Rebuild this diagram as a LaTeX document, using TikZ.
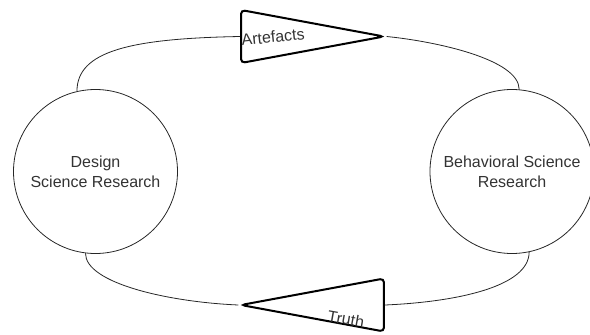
\documentclass[tikz,border=0pt]{standalone}
\usepackage{fontspec}
\setmainfont{Liberation Sans}
\usetikzlibrary{shapes.geometric}
\tikzstyle{research} = [
circle,
draw=black!85,
line width=0.8pt,
minimum size=164pt,
text=black!80,
align=center,
font=\fontsize{16}{20}\selectfont]
\tikzstyle{flow} = [
isosceles triangle,
isosceles triangle stretches,
draw=black,
line width=2pt,
rounded corners=4pt,
inner sep=0pt,
minimum width=53pt,
minimum height=143pt]
\tikzstyle{flowlabel} = [
text=black!80,
inner sep=0pt,
font=\fontsize{16}{20}\selectfont]
\tikzstyle{line} = [
draw=black!85,
line width=0.8pt]

\begin{document}
\begin{tikzpicture}[x=1pt, y=-1pt]
\useasboundingbox (0,0) rectangle (590,335);

\node[research] (dsr) at (95.5,171.5) {Design\\Science Research};
\node[research] (bsr) at (512,171.5) {Behavioral Science\\Research};
\node[flow, anchor=west] (artefacts) at (240,36.5) {};
\node[flow, shape border rotate=180, anchor=east] (truth) at (385,305) {};
\node[flowlabel, rotate=6] (artefactsText) at (273,37) {Artefacts};
\node[flowlabel, rotate=-10] (truthText) at (346,319) {Truth};

\draw[line] (dsr.103) .. controls +(0,-40) and +(-110,2) .. (artefacts.west);
\draw[line] (artefacts.apex) .. controls +(50,5) and +(0,-30) .. (bsr.85);
\draw[line] (dsr.-97) .. controls +(0,30) and +(-70,-3) .. (truth.apex);
\draw[line] (truth.east) .. controls +(70,-3) and +(0,35) .. (bsr.-78);

\end{tikzpicture}
\end{document}
